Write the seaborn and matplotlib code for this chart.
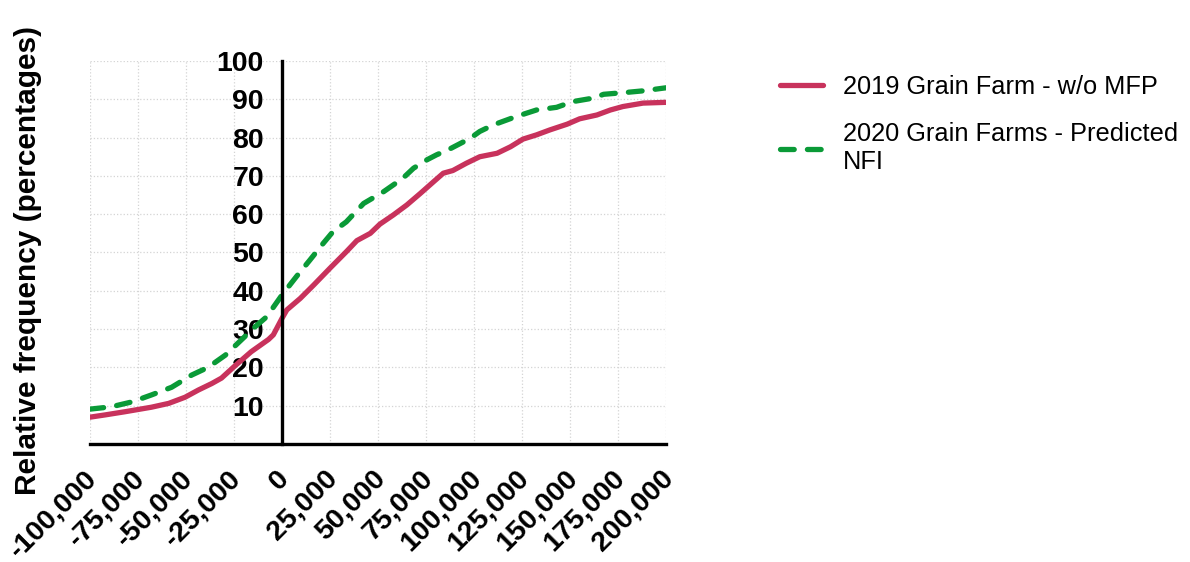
import matplotlib
matplotlib.use("Agg")
import matplotlib.pyplot as plt
import matplotlib.transforms as mtransforms
import seaborn as sns
import pandas as pd
from matplotlib.ticker import FuncFormatter

# values
x_2019 = [-100000, -92000, -82000, -75000, -68000, -59000, -50500, -43500, -36500, -31500,
          -24500, -16000, -7000, -4500, 0, 2500, 9500, 16500, 25000, 33500, 39000,
          46000, 51000, 58000, 65000, 72000, 79000, 84000, 89000, 96000, 103000,
          112000, 119000, 125500, 132500, 139500, 148500, 155000, 164000, 171000,
          177500, 188000, 200000]
y_2019 = [7.0, 7.6, 8.4, 9.0, 9.6, 10.6, 12.2, 14.1, 15.8, 17.2,
          20.4, 24.1, 27.3, 28.5, 32.8, 35.0, 38.0, 41.5, 45.9, 50.2, 53.1,
          55.0, 57.4, 59.8, 62.4, 65.4, 68.5, 70.7, 71.4, 73.3, 75.0,
          75.9, 77.6, 79.6, 80.7, 82.0, 83.5, 84.9, 85.9, 87.2,
          88.1, 89.0, 89.2]

x_2020 = [-100000, -89000, -78000, -68000, -57500, -47000, -38500, -29500, -23000, -14000,
          -8000, 0, 7500, 14500, 21500, 26500, 33500, 42500, 53000, 63000, 68500,
          75500, 80500, 86500, 98000, 103000, 110000, 122000, 132500, 143000, 151500,
          162000, 167500, 179500, 188000, 200000]
y_2020 = [9.1, 9.7, 11.0, 12.8, 14.8, 18.0, 20.0, 23.2, 26.3, 30.6,
          33.2, 38.9, 43.7, 48.0, 52.4, 55.4, 58.0, 62.8, 65.9, 69.4, 72.0,
          74.2, 75.5, 76.8, 79.8, 81.6, 83.3, 85.5, 87.2, 87.9, 89.4,
          90.3, 91.3, 91.8, 92.2, 93.0]

labels = ["2019 Grain Farm - w/o MFP", "2020 Grain Farms - Predicted\nNFI"]
colors = {labels[0]: "#c8325c", labels[1]: "#0a9a37"}

df = pd.concat([
    pd.DataFrame({"income": x_2019, "freq": y_2019, "series": labels[0]}),
    pd.DataFrame({"income": x_2020, "freq": y_2020, "series": labels[1]}),
])

sns.set_style("white")
plt.rcParams["font.family"] = ["Liberation Sans", "DejaVu Sans"]
plt.rcParams.update({"text.color": "black", "axes.labelcolor": "black",
                     "xtick.color": "black", "ytick.color": "black"})

fig = plt.figure(figsize=(11.9, 5.62), dpi=100)
ax = fig.add_axes([0.0756, 0.21, 0.4841, 0.6815])

sns.lineplot(data=df, x="income", y="freq", hue="series", style="series",
             palette=colors, dashes={labels[0]: "", labels[1]: (2.6, 2.5)},
             linewidth=3.8, ax=ax, legend=False, sort=False)
for ln in ax.lines:
    ln.set_dash_capstyle("round")
    ln.set_solid_capstyle("round")
    ln.set_solid_joinstyle("round")

ax.set_xlim(-100000, 200000)
ax.set_ylim(0, 100)
ax.set_xticks(range(-100000, 200001, 25000))
ax.set_yticks(range(10, 101, 10))
ax.xaxis.set_major_formatter(FuncFormatter(lambda v, p: f"{int(v):,}"))
ax.grid(True, color="#d4d4d4", linestyle=":", linewidth=0.9)

ax.spines["top"].set_visible(False)
ax.spines["right"].set_visible(False)
ax.spines["left"].set_position(("data", 0))
for s in ("left", "bottom"):
    ax.spines[s].set_linewidth(2.4)
    ax.spines[s].set_color("black")

ax.tick_params(axis="x", length=11.5, width=2.4, direction="out", pad=4)
ax.tick_params(axis="y", length=11, width=2.4, direction="out", pad=2)
shift = mtransforms.ScaledTranslation(-0.06, 0, fig.dpi_scale_trans)
for t in ax.get_xticklabels():
    t.set_rotation(45)
    t.set_ha("right")
    t.set_va("top")
    t.set_rotation_mode("anchor")
    t.set_fontsize(20.5)
    t.set_fontweight("bold")
    t.set_transform(t.get_transform() + shift)
for t in ax.get_yticklabels():
    t.set_fontsize(20.5)
    t.set_fontweight("bold")

ax.set_xlabel("")
ax.set_ylabel("Relative frequency (percentages)", fontsize=21.5, fontweight="bold")
ax.yaxis.set_label_coords(-0.083, 0.48)

handles = [plt.Line2D([], [], color=colors[labels[0]], lw=3.8, solid_capstyle="round"),
           plt.Line2D([], [], color=colors[labels[1]], lw=3.8, dashes=(2.6, 2.5),
                      dash_capstyle="round")]
fig.legend(handles, labels, loc="upper left", bbox_to_anchor=(0.636, 0.907),
           frameon=False, fontsize=18.3, handlelength=1.72, handletextpad=0.78,
           labelspacing=0.9)

fig.savefig("out.png", dpi=100)
